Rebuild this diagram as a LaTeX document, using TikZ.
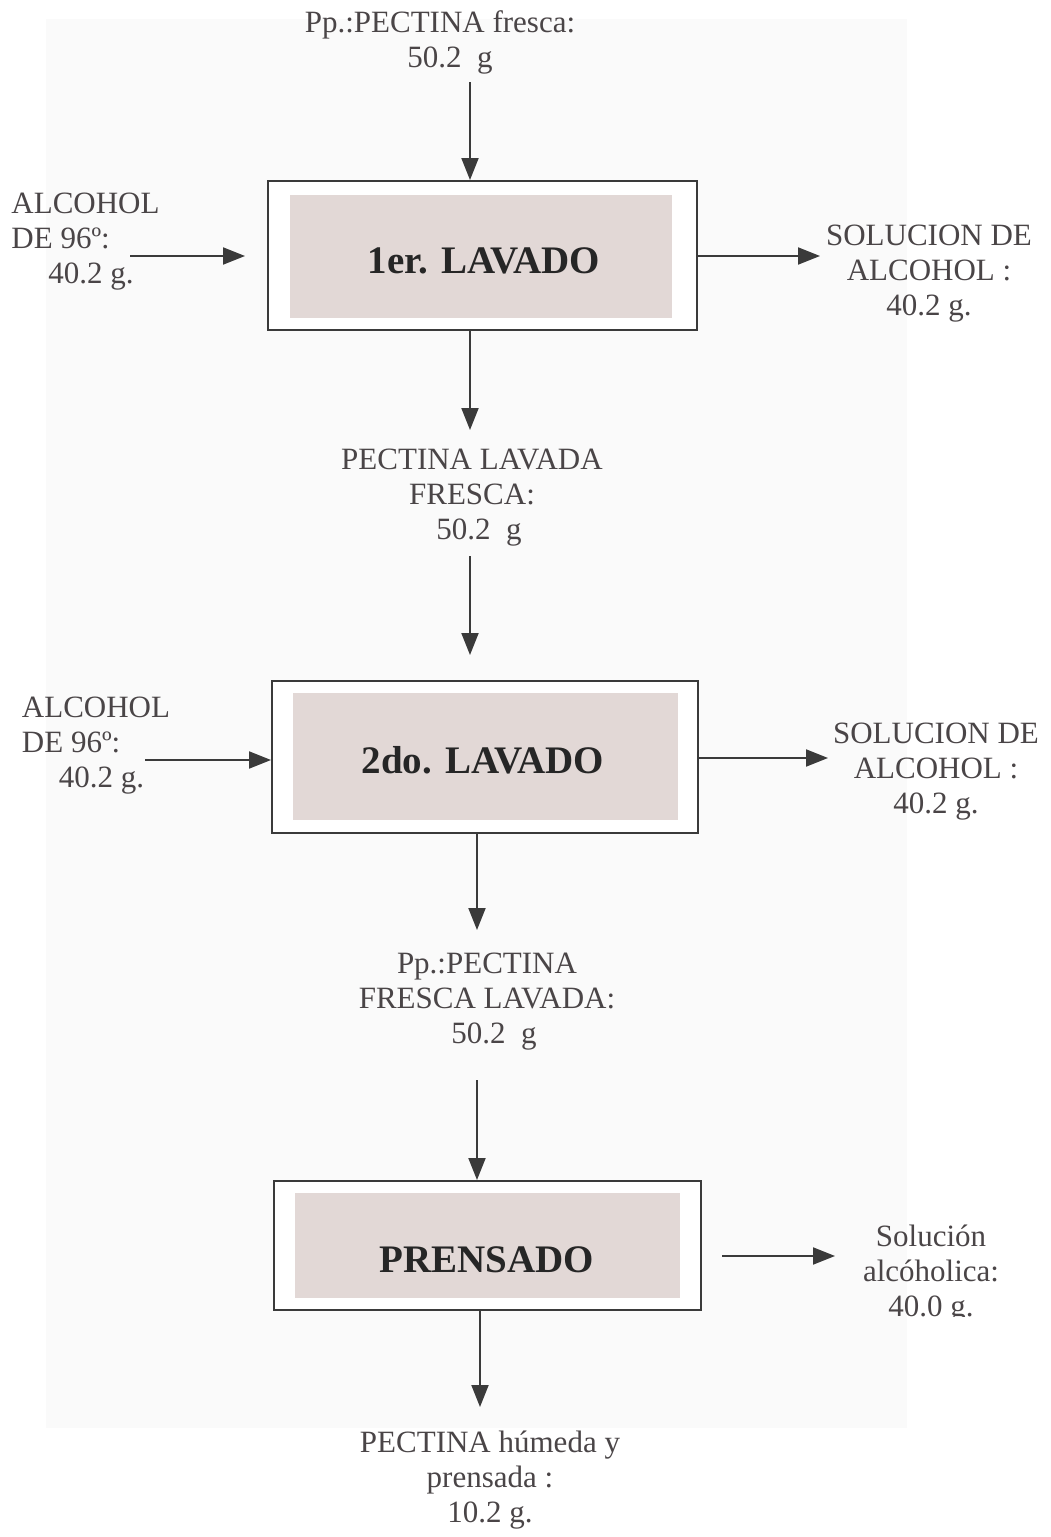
\documentclass[tikz,border=0pt]{standalone}
\usepackage{fontspec}
\setmainfont{Liberation Serif}
\usetikzlibrary{arrows.meta}
\definecolor{txt}{HTML}{4A4547}
\definecolor{ln}{HTML}{3A3A3A}
\definecolor{shade}{HTML}{E2D8D6}
\definecolor{bg}{HTML}{FAFAFA}
\begin{document}
\begin{tikzpicture}[x=1pt,y=-1pt,
  lbl/.style={font=\fontsize{31}{35}\selectfont, text=txt, align=center, inner sep=0pt},
  lbll/.style={lbl, align=left},
  outerbox/.style={draw=ln, line width=2pt, fill=white, inner sep=0pt},
  innerbox/.style={fill=shade, draw=none, inner sep=0pt},
  boxtext/.style={font=\fontsize{39}{44}\selectfont\bfseries, text=black!85, inner sep=0pt},
  arr/.style={draw=ln, line width=2pt, -{Triangle[length=22pt,width=17pt]}}
]
\useasboundingbox (0,0) rectangle (1050,1537);
\fill[bg] (46,19) rectangle (907,1428);

% boxes
\node[outerbox, minimum width=429pt, minimum height=149pt] (b1) at (482.5,255.5) {};
\node[innerbox, minimum width=382pt, minimum height=123pt] (b1i) at (481,256.5) {};
\node[boxtext] (b1t) at (484,261) {1er. LAVADO};

\node[outerbox, minimum width=426pt, minimum height=152pt] (b2) at (485,757) {};
\node[innerbox, minimum width=385pt, minimum height=127pt] (b2i) at (485.5,756.5) {};
\node[boxtext] (b2t) at (483,760) {2do. LAVADO};

\node[outerbox, minimum width=427pt, minimum height=129pt] (b3) at (487.5,1245.5) {};
\node[innerbox, minimum width=385pt, minimum height=105pt] (b3i) at (487.5,1245.5) {};
\node[boxtext] (b3t) at (487,1260) {PRENSADO};

% labels
\node[lbl] (t0) at (440,42) {Pp.:PECTINA fresca:\\\hspace*{20pt}50.2~~g};
\node[lbll] (L1) at (85.5,242) {ALCOHOL\\DE 96º:\\\hspace*{37pt}40.2 g.};
\node[lbl] (R1) at (929,274) {SOLUCION DE\\ALCOHOL :\\40.2 g.};
\node[lbl] (M1) at (472,498) {PECTINA LAVADA\\FRESCA:\\\hspace*{14pt}50.2~~g};
\node[lbll] (L2) at (96,746) {ALCOHOL\\DE 96º:\\\hspace*{37pt}40.2 g.};
\node[lbl] (R2) at (936,772) {SOLUCION DE\\ALCOHOL :\\40.2 g.};
\node[lbl] (M2) at (487,1002) {Pp.:PECTINA\\FRESCA LAVADA:\\\hspace*{14pt}50.2~~g};
\begin{scope}
\clip (800,1200) rectangle (1050,1316);
\node[lbl] (R3) at (931,1274) {Solución\\alcóholica:\\40.0 g.};
\end{scope}
\node[lbl] (B) at (490,1480) {PECTINA húmeda y\\prensada :\\10.2 g.};

% free ends
\coordinate (a0) at (470,82);
\coordinate (a1s) at (130,256);
\coordinate (a1e) at (245,256);
\coordinate (r1e) at (820,256);
\coordinate (d1e) at (470,430);
\coordinate (m1s) at (470,556);
\coordinate (m1e) at (470,655);
\coordinate (a2s) at (145,760);
\coordinate (r2e) at (828,758);
\coordinate (d2e) at (477,930);
\coordinate (m2s) at (477,1080);
\coordinate (r3s) at (722,1256);
\coordinate (r3e) at (835,1256);
\coordinate (d3e) at (480,1407);

% connectors
\draw[arr] (a0) -- (a0 |- b1.north);
\draw[arr] (a1s) -- (a1e);
\draw[arr] (b1.east |- r1e) -- (r1e);
\draw[arr] (d1e |- b1.south) -- (d1e);
\draw[arr] (m1s) -- (m1e);
\draw[arr] (a2s) -- (b2.west |- a2s);
\draw[arr] (b2.east |- r2e) -- (r2e);
\draw[arr] (d2e |- b2.south) -- (d2e);
\draw[arr] (m2s) -- (m2s |- b3.north);
\draw[arr] (r3s) -- (r3e);
\draw[arr] (d3e |- b3.south) -- (d3e);
\end{tikzpicture}
\end{document}
